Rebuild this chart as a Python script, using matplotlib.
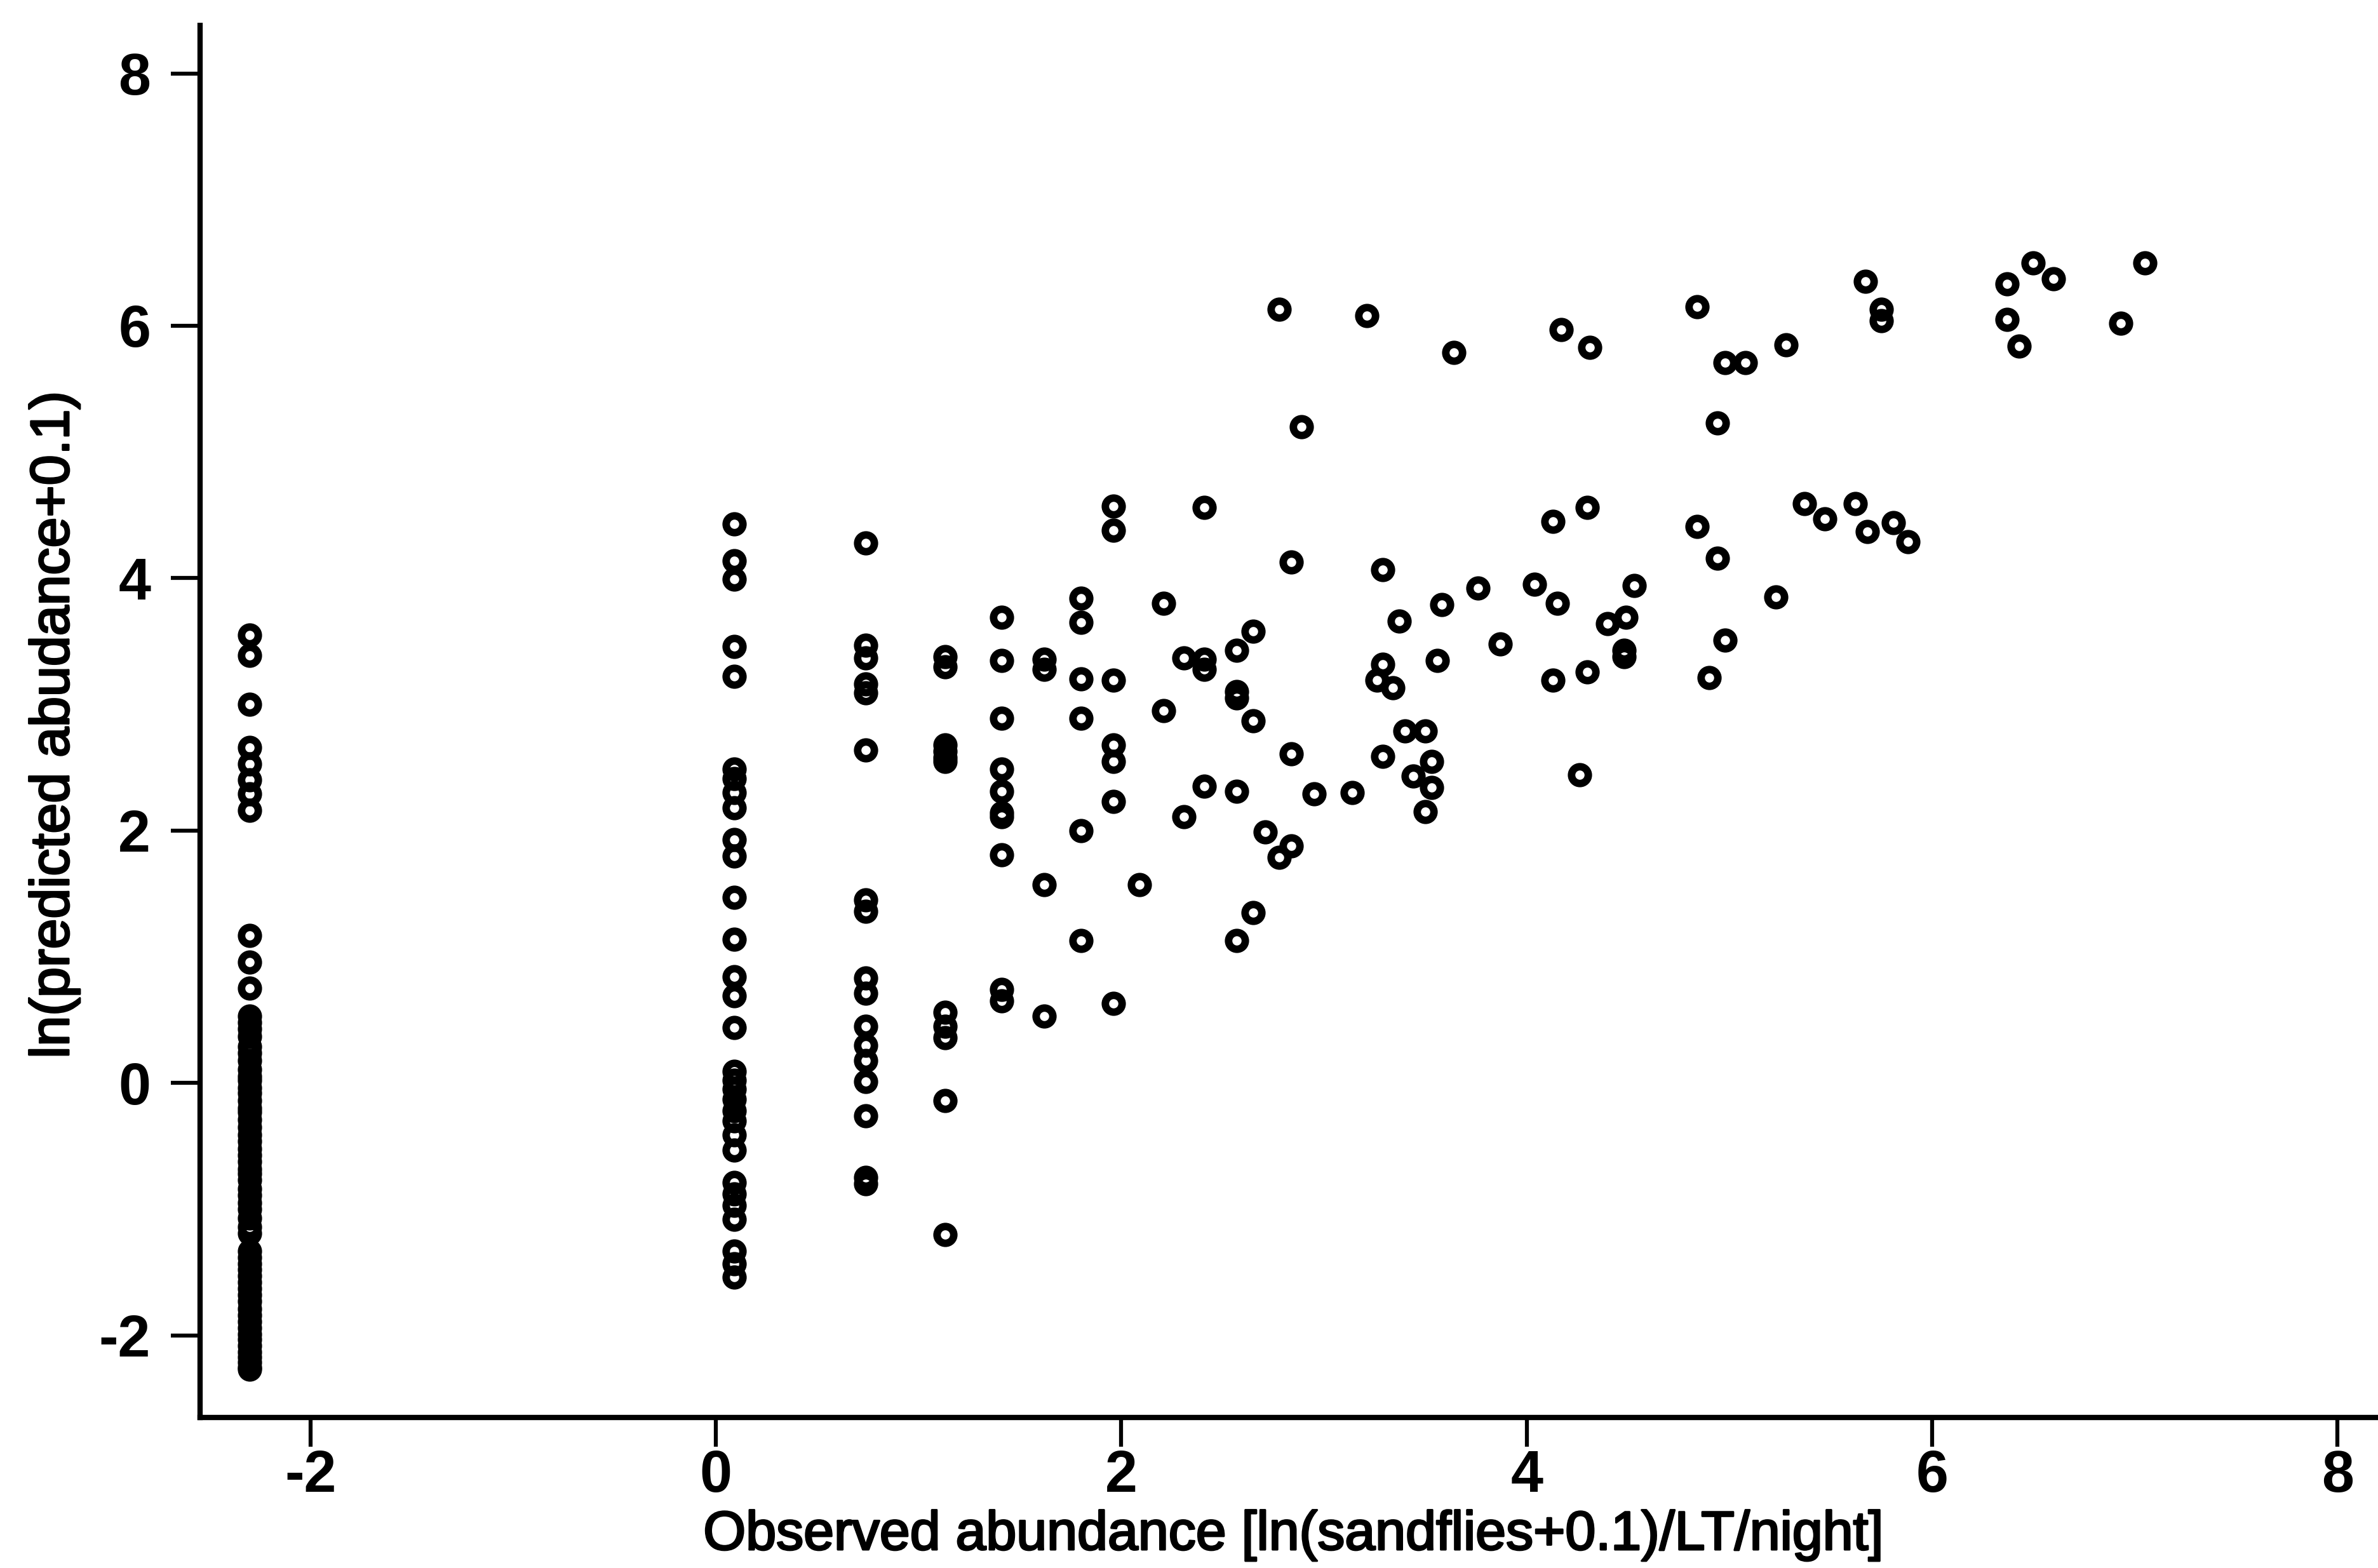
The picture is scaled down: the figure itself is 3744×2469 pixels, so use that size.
import matplotlib
matplotlib.use("Agg")
import matplotlib.pyplot as plt
import matplotlib.patheffects as pe
from matplotlib import font_manager

# ---------------- data ----------------
# observed values (x) where many sites share the same catch level
col_obs = [-2.30, 0.09, 0.74, 1.13, 1.41, 1.62, 1.80, 1.96]

pred_col_m230 = [3.55, 3.39, 3.00, 2.66, 2.53, 2.40, 2.29, 2.16, 1.17, 0.96, 0.75,
                 0.53, 0.48, 0.43, 0.37, 0.29, 0.24, 0.18, 0.11, 0.05, 0.02, -0.04,
                 -0.08, -0.14, -0.20, -0.23, -0.29, -0.35, -0.41, -0.46, -0.52, -0.57,
                 -0.62, -0.68, -0.72, -0.77, -0.84, -0.89, -0.95, -1.00, -1.07, -1.14,
                 -1.19, -1.33, -1.38, -1.43, -1.48, -1.53, -1.58, -1.63, -1.68, -1.73,
                 -1.79, -1.84, -1.89, -1.94, -1.99, -2.03, -2.08, -2.13, -2.17, -2.21,
                 -2.25, -2.27]
pred_col_009 = [4.43, 4.14, 3.99, 3.46, 3.22, 2.49, 2.41, 2.30, 2.18, 1.93, 1.80, 1.47,
                1.14, 0.84, 0.69, 0.44, 0.09, 0.02, -0.05, -0.13, -0.22, -0.30, -0.41,
                -0.53, -0.79, -0.88, -0.97, -1.08, -1.33, -1.43, -1.54]
pred_col_074 = [4.28, 3.47, 3.37, 3.16, 3.09, 2.64, 1.45, 1.36, 0.83, 0.71, 0.45, 0.30,
                0.18, 0.01, -0.26, -0.75, -0.80]
pred_col_113 = [3.38, 3.30, 2.68, 2.63, 2.58, 2.55, 0.56, 0.45, 0.36, -0.14, -1.20]
pred_col_141 = [3.69, 3.35, 2.89, 2.49, 2.31, 2.14, 2.11, 1.81, 0.74, 0.65]
pred_col_162 = [3.36, 3.28, 1.57, 0.53]
pred_col_180 = [3.84, 3.65, 3.20, 2.89, 2.00, 1.13]
pred_col_196 = [4.57, 4.38, 3.19, 2.68, 2.55, 2.23, 0.63]

# remaining individual sites
obs_rest = [2.09, 2.21, 2.21, 2.31, 2.31, 2.41, 2.41, 2.41, 2.41,
            2.57, 2.57, 2.57, 2.57, 2.57, 2.65, 2.65, 2.65, 2.71, 2.78, 2.78,
            2.84, 2.84, 2.84, 2.89, 2.95, 3.14, 3.21, 3.26, 3.29, 3.29, 3.29,
            3.34, 3.37, 3.40, 3.44, 3.50, 3.50, 3.53, 3.53, 3.56, 3.58, 3.64,
            3.76, 3.87, 4.04, 4.13, 4.13, 4.15, 4.17, 4.26, 4.30, 4.30, 4.31,
            4.40, 4.49, 4.48, 4.48, 4.53, 4.84, 4.84, 4.90, 4.94, 4.94, 4.98,
            4.98, 5.08, 5.23, 5.28, 5.37, 5.47, 5.62, 5.67, 5.68, 5.75, 5.75,
            5.81, 5.88, 6.37, 6.37, 6.43, 6.50, 6.60, 6.93, 7.05]
pred_rest = [1.57, 3.80, 2.95, 3.37, 2.11, 4.56, 3.36, 3.28, 2.35,
             3.43, 3.10, 3.05, 2.31, 1.13, 3.58, 2.87, 1.35, 1.99, 6.13, 1.79,
             4.13, 2.61, 1.88, 5.20, 2.29, 2.30, 6.08, 3.19, 4.07, 3.32, 2.59,
             3.13, 3.66, 2.79, 2.43, 2.79, 2.15, 2.55, 2.34, 3.35, 3.79, 5.79,
             3.92, 3.48, 3.95, 4.45, 3.19, 3.80, 5.97, 2.44, 4.56, 3.26, 5.83,
             3.64, 3.69, 3.43, 3.38, 3.94, 6.15, 4.41, 3.21, 5.23, 4.16, 5.71,
             3.51, 5.71, 3.85, 5.85, 4.59, 4.47, 4.59, 6.35, 4.37, 6.13, 6.04,
             4.44, 4.29, 6.33, 6.05, 5.84, 6.50, 6.37, 6.02, 6.50]

x_ticks = [-2, 0, 2, 4, 6, 8]
y_ticks = [-2, 0, 2, 4, 6, 8]
x_label = "Observed abundance [ln(sandflies+0.1)/LT/night]"
y_label = "ln(predicted abudance+0.1)"

# ---------------- styling ----------------
plt.rcParams["axes.unicode_minus"] = False
names = {f.name for f in font_manager.fontManager.ttflist}
tick_family = "Liberation Sans Narrow" if "Liberation Sans Narrow" in names else "Liberation Sans"
label_family = "Liberation Sans"

W, H = 3744, 2469
fig = plt.figure(figsize=(W / 100, H / 100), dpi=100)
ax = fig.add_axes([315 / W, 237 / H, (W - 315) / W, (2232 - 40) / H])

marker_kw = dict(linestyle="none", marker="o", markersize=19, markerfacecolor="none",
                 markeredgecolor="black", markeredgewidth=8.5, clip_on=False)

col_preds = [pred_col_m230, pred_col_009, pred_col_074, pred_col_113,
             pred_col_141, pred_col_162, pred_col_180, pred_col_196]
for cx, vals in zip(col_obs, col_preds):
    ax.plot([cx] * len(vals), vals, **marker_kw)
ax.plot(obs_rest, pred_rest, **marker_kw)

ax.set_xlim(-2.545, 8.20)
ax.set_ylim(-2.65, 8.38)

for side in ("top", "right"):
    ax.spines[side].set_visible(False)
for side in ("left", "bottom"):
    ax.spines[side].set_linewidth(6)
    ax.spines[side].set_color("black")

ax.set_xticks(x_ticks)
ax.set_yticks(y_ticks)
ax.set_xticklabels([str(t) for t in x_ticks])
ax.set_yticklabels([str(t) for t in y_ticks])
ax.tick_params(axis="both", direction="out", length=33, width=4.5, color="black")
ax.tick_params(axis="x", pad=3)
ax.tick_params(axis="y", pad=23)
for lab in ax.get_xticklabels() + ax.get_yticklabels():
    lab.set_fontfamily(tick_family)
    lab.set_fontweight("bold")
    lab.set_fontsize(66)

thick = [pe.withStroke(linewidth=2.2, foreground="black")]
fig.text(2037 / W, (H - 2440) / H, x_label, ha="center", va="baseline",
         fontsize=62, family=label_family, color="black", path_effects=thick)
fig.text(108 / W, 1 - 1141 / H, y_label, ha="center", va="baseline",
         rotation=90, rotation_mode="anchor", fontsize=62,
         family=label_family, color="black", path_effects=thick)

fig.savefig("out.png", dpi=100, facecolor="white")
